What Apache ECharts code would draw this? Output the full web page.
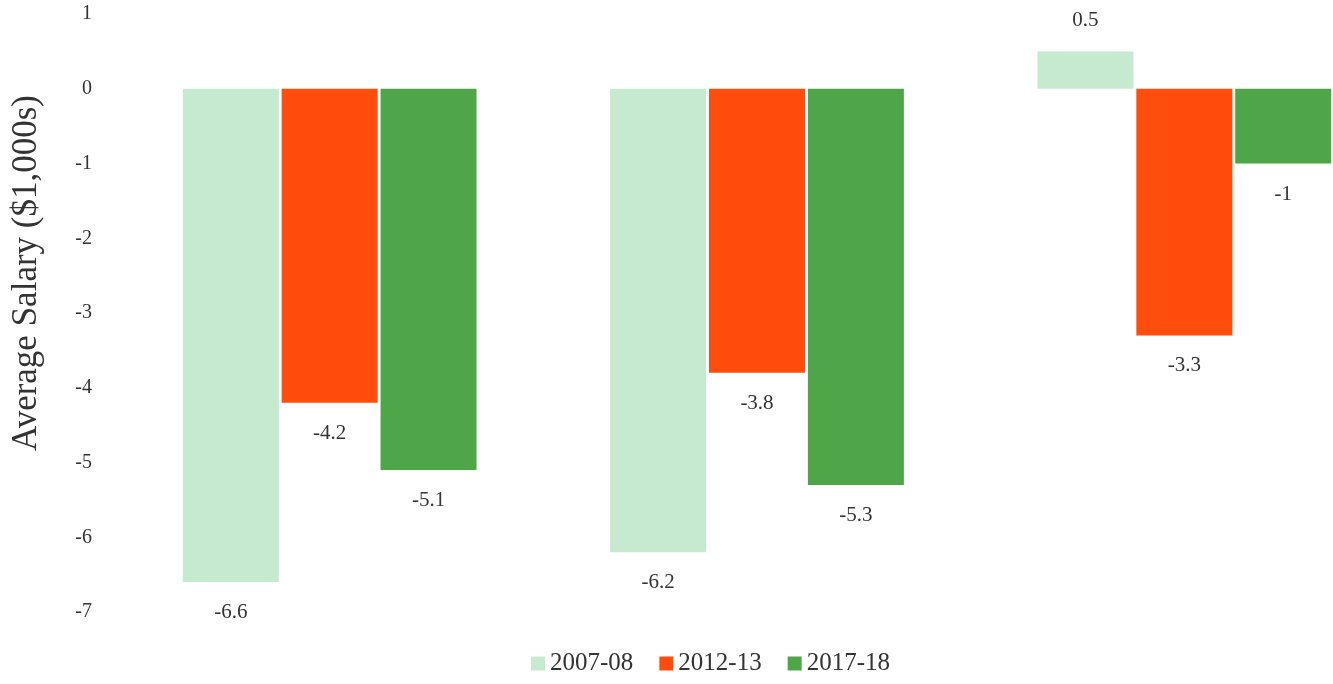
<!DOCTYPE html>
<html>
<head>
<meta charset="utf-8">
<script src="https://cdn.jsdelivr.net/npm/echarts@6/dist/echarts.min.js"></script>
<style>html,body{margin:0;padding:0;background:#fff;overflow:hidden;width:1333px;height:684px;}#c{width:1398px;height:684px;}</style>
</head>
<body>
<div id="c"></div>
<script>
var categories = ['A', 'B', 'C'];
var seriesNames = ['2007-08', '2012-13', '2017-18'];
var s2007 = [-6.6, -6.2, 0.5];
var s2012 = [-4.2, -3.8, -3.3];
var s2017 = [-5.1, -5.3, -1];
var yTicks = [1, 0, -1, -2, -3, -4, -5, -6, -7];

var colors = ['#c6ead0', '#ff4d0d', '#4fa648'];
var FONT = '"Liberation Serif", "DejaVu Serif", serif';

function toData(arr) {
  return arr.map(function (v) {
    return { value: v, label: { position: v < 0 ? 'bottom' : 'top' } };
  });
}

var chart = echarts.init(document.getElementById('c'));
var all = [s2007, s2012, s2017];
chart.setOption({
  animation: false,
  backgroundColor: '#fff',
  grid: { left: 116, right: 0, top: 14, bottom: 72, containLabel: false },
  legend: {
    data: seriesNames,
    bottom: 3,
    left: 526,
    itemWidth: 14,
    itemHeight: 14,
    itemGap: 26,
    icon: 'rect',
    textStyle: { fontFamily: FONT, fontSize: 25, color: '#333' }
  },
  xAxis: {
    type: 'category',
    data: categories,
    axisLine: { show: false },
    axisTick: { show: false },
    axisLabel: { show: false }
  },
  yAxis: {
    type: 'value',
    min: -7,
    max: 1,
    interval: 1,
    splitLine: { show: false },
    axisLine: { show: false },
    axisTick: { show: false },
    axisLabel: { margin: 24, fontFamily: FONT, fontSize: 20, color: '#333' }
  },
  graphic: [{
    type: 'text',
    left: 9,
    top: 95,
    rotation: Math.PI / 2,
    style: { text: 'Average Salary ($1,000s)', font: '35px ' + FONT, fill: '#333' }
  }],
  series: seriesNames.map(function (n, i) {
    return {
      name: n,
      type: 'bar',
      data: toData(all[i]),
      barWidth: 96,
      barGap: '3%',
      itemStyle: { color: colors[i] },
      label: { show: true, distance: 20, fontFamily: FONT, fontSize: 21, color: '#333' }
    };
  })
});
</script>
</body>
</html>
